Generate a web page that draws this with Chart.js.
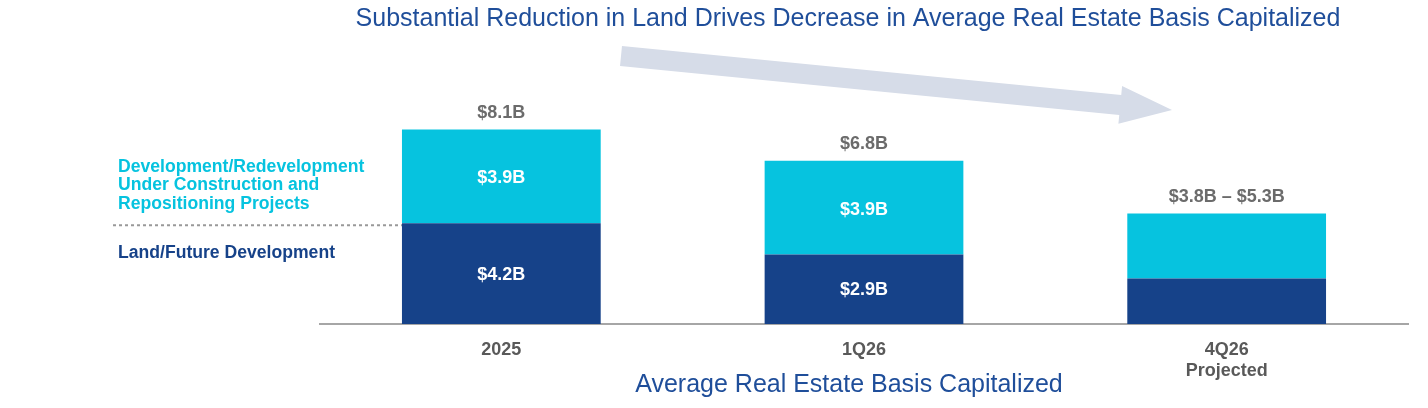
<!DOCTYPE html>
<html>
<head>
<meta charset="utf-8">
<script src="https://cdn.jsdelivr.net/npm/chart.js@4"></script>
<style>
  html, body { margin: 0; padding: 0; background: #ffffff; }
  #wrap { width: 1428px; height: 408px; }
</style>
</head>
<body>
<div id="wrap"><canvas id="chart" width="1428" height="408"></canvas></div>
<script>
// Data
const categories = ['2025', '1Q26', ['4Q26', 'Projected']];
const landValues = [4.2, 2.9, 1.9];
const devValues = [3.9, 3.9, 2.7];
const landLabels = ['$4.2B', '$2.9B', ''];
const devLabels = ['$3.9B', '$3.9B', ''];
const totalLabels = ['$8.1B', '$6.8B', '$3.8B \u2013 $5.3B'];

const COLORS = {
    land: '#164289',
    dev: '#06C3DF',
    title: '#1F4E9A',
    total: '#6B6B6B',
    axisText: '#595959',
    axisLine: '#A6A6A6',
    arrow: '#D6DCE8',
    dots: '#999999'
};

const FONT = '"Liberation Sans", Arial, sans-serif';

// Big pale arrow behind the bars
const arrowPlugin = {
    id: 'arrow',
    beforeDraw(chart) {
        const ctx = chart.ctx;
        const x0 = 621, y0 = 56, x1 = 1172, y1 = 110;
        const dx = x1 - x0, dy = y1 - y0;
        const len = Math.hypot(dx, dy);
        const ux = dx / len, uy = dy / len;
        const nx = -uy, ny = ux;
        const shaft = 10, head = 19, headLen = 52;
        const bx = x1 - ux * headLen, by = y1 - uy * headLen;
        ctx.save();
        ctx.fillStyle = COLORS.arrow;
        ctx.beginPath();
        ctx.moveTo(x0 + nx * shaft, y0 + ny * shaft);
        ctx.lineTo(bx + nx * shaft, by + ny * shaft);
        ctx.lineTo(bx + nx * head, by + ny * head);
        ctx.lineTo(x1, y1);
        ctx.lineTo(bx - nx * head, by - ny * head);
        ctx.lineTo(bx - nx * shaft, by - ny * shaft);
        ctx.lineTo(x0 - nx * shaft, y0 - ny * shaft);
        ctx.closePath();
        ctx.fill();
        ctx.restore();
    }
};

// Titles, legend text, value labels
const textPlugin = {
    id: 'texts',
    afterDraw(chart) {
        const ctx = chart.ctx;
        ctx.save();
        ctx.textBaseline = 'middle';

        // titles
        ctx.textAlign = 'center';
        ctx.fillStyle = COLORS.title;
        ctx.font = '25px ' + FONT;
        ctx.fillText('Substantial Reduction in Land Drives Decrease in Average Real Estate Basis Capitalized', 848, 19);
        ctx.fillText('Average Real Estate Basis Capitalized', 849, 385);

        // left side series labels
        ctx.textAlign = 'left';
        ctx.font = 'bold 17.6px ' + FONT;
        ctx.fillStyle = COLORS.dev;
        ['Development/Redevelopment', 'Under Construction and', 'Repositioning Projects']
            .forEach((t, i) => ctx.fillText(t, 118, 167 + i * 18.5));
        ctx.fillStyle = COLORS.land;
        ctx.fillText('Land/Future Development', 118, 253);

        // dotted divider at the split of the first bar
        const landMeta = chart.getDatasetMeta(0);
        const devMeta = chart.getDatasetMeta(1);
        const splitY = landMeta.data[0].y;
        ctx.strokeStyle = COLORS.dots;
        ctx.lineWidth = 2;
        ctx.setLineDash([3, 3]);
        ctx.beginPath();
        ctx.moveTo(113, splitY + 2);
        ctx.lineTo(landMeta.data[0].x - landMeta.data[0].width / 2, splitY + 2);
        ctx.stroke();
        ctx.setLineDash([]);

        // values inside segments
        ctx.textAlign = 'center';
        ctx.fillStyle = '#ffffff';
        ctx.font = 'bold 18px ' + FONT;
        landMeta.data.forEach((bar, i) => {
            ctx.fillText(landLabels[i], bar.x, (bar.y + bar.base) / 2 + 1);
        });
        devMeta.data.forEach((bar, i) => {
            ctx.fillText(devLabels[i], bar.x, (bar.y + bar.base) / 2 + 2);
        });

        // totals above bars
        ctx.fillStyle = COLORS.total;
        ctx.font = 'bold 18px ' + FONT;
        devMeta.data.forEach((bar, i) => {
            ctx.fillText(totalLabels[i], bar.x, bar.y - 17);
        });
        ctx.restore();
    }
};

new Chart(document.getElementById('chart').getContext('2d'), {
    type: 'bar',
    data: {
        labels: categories,
        datasets: [
            { label: 'Land/Future Development', data: landValues, backgroundColor: COLORS.land },
            { label: 'Development/Redevelopment', data: devValues, backgroundColor: COLORS.dev }
        ]
    },
    options: {
        responsive: false,
        animation: false,
        devicePixelRatio: 1,
        layout: { padding: { left: 320, right: 20, top: 84, bottom: 0 } },
        datasets: {
            bar: { barPercentage: 0.548, categoryPercentage: 1, borderWidth: 0 }
        },
        plugins: {
            legend: { display: false },
            tooltip: { enabled: false },
            title: { display: false }
        },
        scales: {
            x: {
                stacked: true,
                grid: { display: false, drawTicks: false },
                border: { display: true, color: COLORS.axisLine, width: 2 },
                ticks: {
                    color: COLORS.axisText,
                    font: { family: FONT, size: 18, weight: 'bold', lineHeight: 1.18 },
                    padding: 15,
                    maxRotation: 0
                },
                afterFit(axis) { axis.height = 84; }
            },
            y: {
                stacked: true,
                display: false,
                min: 0,
                max: 10
            }
        }
    },
    plugins: [arrowPlugin, textPlugin]
});
</script>
</body>
</html>
